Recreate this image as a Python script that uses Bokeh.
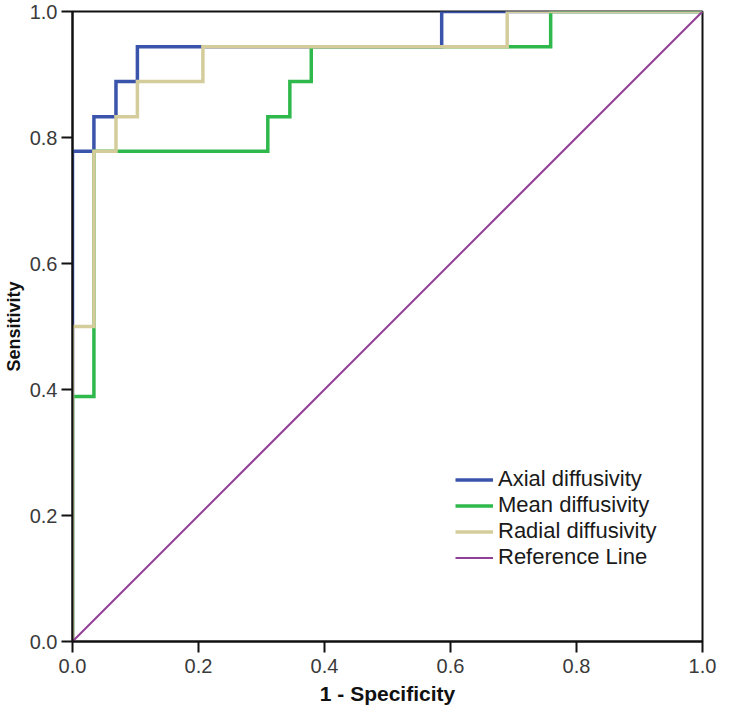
from bokeh.plotting import figure
from bokeh.models import Range1d, Legend, LegendItem, FixedTicker
from bokeh.embed import file_html
from bokeh.resources import INLINE

# ROC coordinates (1 - Specificity, Sensitivity)
axial_fpr = [0.0, 0.0, 0.034, 0.034, 0.069, 0.069, 0.103, 0.103, 0.586, 0.586, 1.0]
axial_tpr = [0.0, 0.778, 0.778, 0.833, 0.833, 0.889, 0.889, 0.944, 0.944, 1.0, 1.0]

mean_fpr = [0.0, 0.0, 0.034, 0.034, 0.310, 0.310, 0.345, 0.345, 0.379, 0.379, 0.759, 0.759, 1.0]
mean_tpr = [0.0, 0.389, 0.389, 0.778, 0.778, 0.833, 0.833, 0.889, 0.889, 0.944, 0.944, 1.0, 1.0]

radial_fpr = [0.0, 0.0, 0.034, 0.034, 0.069, 0.069, 0.103, 0.103, 0.207, 0.207, 0.690, 0.690, 1.0]
radial_tpr = [0.0, 0.5, 0.5, 0.778, 0.778, 0.833, 0.833, 0.889, 0.889, 0.944, 0.944, 1.0, 1.0]

ref_x = [0.0, 1.0]
ref_y = [0.0, 1.0]

ticks = [0.0, 0.2, 0.4, 0.6, 0.8, 1.0]
tick_labels = {0.0: "0.0", 0.2: "0.2", 0.4: "0.4", 0.6: "0.6", 0.8: "0.8", 1.0: "1.0"}

names = ["Axial diffusivity", "Mean diffusivity", "Radial diffusivity", "Reference Line"]
colors = ["#3b54ab", "#2fb84c", "#d4cd9b", "#923f98"]

p = figure(width=717, height=710, output_backend="svg", toolbar_location=None,
           x_range=Range1d(0, 1), y_range=Range1d(0, 1),
           min_border_left=68, min_border_right=15, min_border_top=11, min_border_bottom=69)

p.xgrid.visible = False
p.ygrid.visible = False
p.outline_line_color = "#111111"
p.outline_line_width = 2
p.background_fill_color = "white"
p.border_fill_color = "white"

for ax in (p.xaxis[0], p.yaxis[0]):
    ax.ticker = FixedTicker(ticks=ticks)
    ax.major_label_overrides = tick_labels
    ax.major_tick_out = 11
    ax.major_tick_in = 0
    ax.minor_tick_out = 0
    ax.minor_tick_in = 0
    ax.major_tick_line_color = "#111111"
    ax.major_tick_line_width = 2
    ax.axis_line_color = "#111111"
    ax.axis_line_width = 2
    ax.major_label_text_font = "Liberation Sans"
    ax.major_label_text_font_size = "20px"
    ax.major_label_text_color = "#3a3a3a"
    ax.axis_label_text_font = "Liberation Sans"
    ax.axis_label_text_font_style = "bold"
    ax.axis_label_text_color = "#111111"

p.xaxis[0].axis_label = "1 - Specificity"
p.yaxis[0].axis_label = "Sensitivity"
p.xaxis[0].axis_label_text_font_size = "21px"
p.yaxis[0].axis_label_text_font_size = "18px"
p.xaxis[0].major_label_standoff = 6
p.xaxis[0].axis_label_standoff = 6
p.yaxis[0].major_label_standoff = 4
p.yaxis[0].axis_label_standoff = 3

r_axial = p.line(axial_fpr, axial_tpr, line_color=colors[0], line_width=3.5, line_join="miter")
r_mean = p.line(mean_fpr, mean_tpr, line_color=colors[1], line_width=3.5, line_join="miter")
r_radial = p.line(radial_fpr, radial_tpr, line_color=colors[2], line_width=3.5, line_join="miter")
r_ref = p.line(ref_x, ref_y, line_color=colors[3], line_width=2)

legend = Legend(items=[
    LegendItem(label=names[0], renderers=[r_axial]),
    LegendItem(label=names[1], renderers=[r_mean]),
    LegendItem(label=names[2], renderers=[r_radial]),
    LegendItem(label=names[3], renderers=[r_ref]),
], location=(383, 71))
legend.border_line_color = None
legend.background_fill_alpha = 0
legend.padding = 0
legend.margin = 0
legend.spacing = 0
legend.glyph_width = 38
legend.glyph_height = 23
legend.label_height = 23
legend.label_standoff = 5
legend.label_text_font = "Liberation Sans"
legend.label_text_font_size = "22px"
legend.label_text_color = "#1a1a1a"
p.add_layout(legend, "center")

open("out.html", "w").write(file_html(p, INLINE))
